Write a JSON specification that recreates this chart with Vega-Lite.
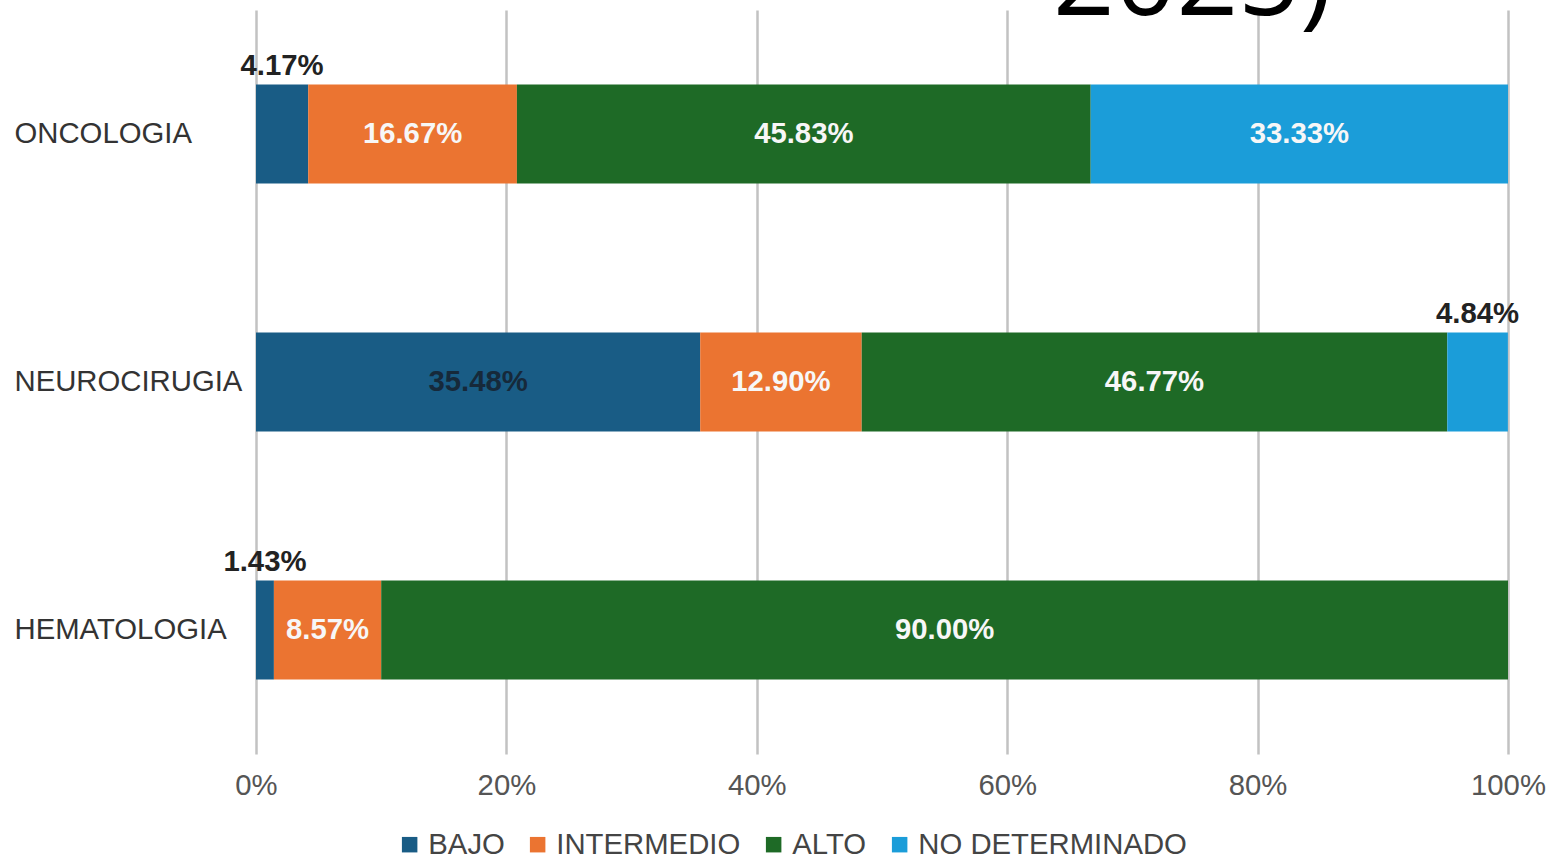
{
  "$schema": "https://vega.github.io/schema/vega-lite/v6.json",
  "width": 1252,
  "height": 744,
  "autosize": {"type": "none"},
  "padding": {"left": 256, "top": 10, "right": 39, "bottom": 103},
  "background": "white",
  "config": {"view": {"stroke": null}},
  "title": {
    "text": "2025)",
    "anchor": "start",
    "frame": "group",
    "font": "Open Sans",
    "fontSize": 108,
    "fontWeight": "normal",
    "color": "#000000",
    "baseline": "alphabetic",
    "dy": 117,
    "dx": 797
  },
  "data": {
    "values": [
      {"servicio": "ONCOLOGIA", "nivel": "BAJO", "orden": 1, "pct": 0.0417},
      {"servicio": "ONCOLOGIA", "nivel": "INTERMEDIO", "orden": 2, "pct": 0.1667},
      {"servicio": "ONCOLOGIA", "nivel": "ALTO", "orden": 3, "pct": 0.4583},
      {"servicio": "ONCOLOGIA", "nivel": "NO DETERMINADO", "orden": 4, "pct": 0.3333},
      {"servicio": "NEUROCIRUGIA", "nivel": "BAJO", "orden": 1, "pct": 0.3548},
      {"servicio": "NEUROCIRUGIA", "nivel": "INTERMEDIO", "orden": 2, "pct": 0.1290},
      {"servicio": "NEUROCIRUGIA", "nivel": "ALTO", "orden": 3, "pct": 0.4677},
      {"servicio": "NEUROCIRUGIA", "nivel": "NO DETERMINADO", "orden": 4, "pct": 0.0484},
      {"servicio": "HEMATOLOGIA", "nivel": "BAJO", "orden": 1, "pct": 0.0143},
      {"servicio": "HEMATOLOGIA", "nivel": "INTERMEDIO", "orden": 2, "pct": 0.0857},
      {"servicio": "HEMATOLOGIA", "nivel": "ALTO", "orden": 3, "pct": 0.9000}
    ]
  },
  "encoding": {
    "y": {
      "field": "servicio",
      "type": "nominal",
      "sort": ["ONCOLOGIA", "NEUROCIRUGIA", "HEMATOLOGIA"],
      "scale": {"paddingInner": 0.6, "paddingOuter": 0.3},
      "axis": {
        "title": null,
        "domain": false,
        "ticks": false,
        "tickSize": 0,
        "labelAlign": "left",
        "labelPadding": 242,
        "labelLimit": 400,
        "labelFont": "Liberation Sans",
        "labelFontSize": 29.3,
        "labelColor": "#333333"
      }
    },
    "order": {"field": "orden", "type": "quantitative"}
  },
  "layer": [
    {
      "mark": {"type": "bar"},
      "encoding": {
        "x": {
          "field": "pct",
          "type": "quantitative",
          "stack": "zero",
          "scale": {"domain": [0, 1], "nice": false},
          "axis": {
            "title": null,
            "format": ".0%",
            "values": [0, 0.2, 0.4, 0.6, 0.8, 1],
            "domain": false,
            "ticks": false,
            "tickSize": 0,
            "labelFlush": false,
            "labelPadding": 17,
            "labelFont": "Liberation Sans",
            "labelFontSize": 29.3,
            "labelColor": "#555555",
            "labelBaseline": "top",
            "grid": true,
            "gridColor": "#c2c2c2",
            "gridWidth": 2.5
          }
        },
        "color": {
          "field": "nivel",
          "type": "nominal",
          "sort": ["BAJO", "INTERMEDIO", "ALTO", "NO DETERMINADO"],
          "scale": {
            "domain": ["BAJO", "INTERMEDIO", "ALTO", "NO DETERMINADO"],
            "range": ["#195c85", "#eb7431", "#1e6a26", "#1b9dd9"]
          },
          "legend": {
            "title": null,
            "orient": "none",
            "legendX": 139,
            "legendY": 820,
            "direction": "horizontal",
            "symbolType": "square",
            "symbolSize": 240,
            "symbolStrokeWidth": 0,
            "labelFont": "Liberation Sans",
            "labelFontSize": 29.3,
            "labelLimit": 400,
            "labelColor": "#444444",
            "labelOffset": 4,
            "columnPadding": 18
          }
        }
      }
    },
    {
      "mark": {"type": "text", "font": "Liberation Sans", "fontSize": 29.3, "fontWeight": "bold", "baseline": "middle", "align": "center"},
      "encoding": {
        "x": {"field": "pct", "type": "quantitative", "stack": "zero", "bandPosition": 0.5},
        "text": {"condition": {"test": "datum.pct >= 0.08", "field": "pct", "type": "quantitative", "format": ".2%"}, "value": ""},
        "color": {"condition": {"test": "datum.nivel === 'BAJO'", "value": "#16293a"}, "value": "#f7f7f7"}
      }
    },
    {
      "mark": {"type": "text", "font": "Liberation Sans", "fontSize": 29.3, "fontWeight": "bold", "baseline": "middle", "align": "center", "dy": -68, "color": "#222222"},
      "encoding": {
        "x": {"field": "pct", "type": "quantitative", "stack": "zero", "bandPosition": 0.5},
        "text": {"condition": {"test": "datum.pct < 0.08", "field": "pct", "type": "quantitative", "format": ".2%"}, "value": ""}
      }
    }
  ]
}
